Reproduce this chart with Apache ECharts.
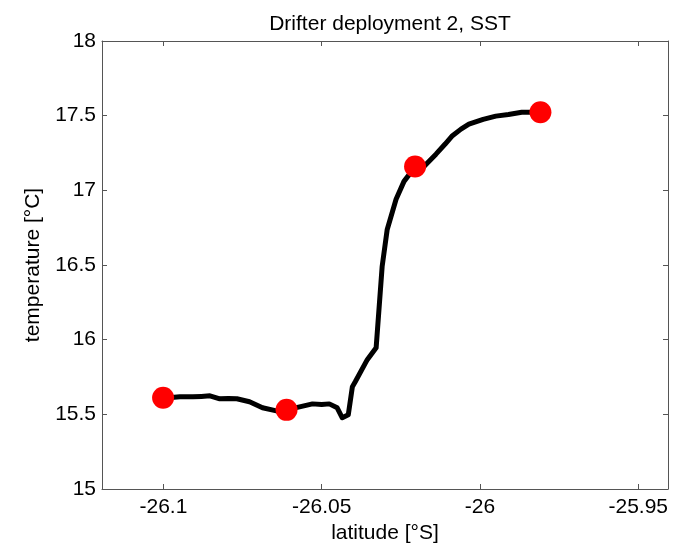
<!DOCTYPE html>
<html>
<head>
<meta charset="utf-8">
<script src="https://cdn.jsdelivr.net/npm/echarts@6/dist/echarts.min.js"></script>
<style>html,body{margin:0;padding:0;background:#fff;}#c{width:677px;height:545px;}</style>
</head>
<body>
<div id="c"></div>
<script>
// Drifter SST trace (latitude, temperature)
var lat = [-26.1001,-26.0975,-26.0948,-26.0907,-26.0880,-26.0853,-26.0822,-26.0795,-26.0768,-26.0728,-26.0687,-26.0643,-26.0611,-26.0570,-26.0529,-26.0500,-26.0476,-26.0451,-26.0435,-26.0429,-26.0416,-26.0403,-26.0394,-26.0356,-26.0328,-26.0309,-26.0293,-26.0265,-26.0240,-26.0215,-26.0195,-26.0170,-26.0139,-26.0110,-26.0089,-26.0060,-26.0035,-25.9990,-25.9950,-25.9910,-25.9868,-25.9809];
var temp = [15.611,15.612,15.617,15.617,15.620,15.624,15.604,15.606,15.604,15.584,15.544,15.523,15.530,15.550,15.570,15.566,15.570,15.544,15.477,15.477,15.497,15.685,15.718,15.866,15.946,16.490,16.738,16.940,17.060,17.130,17.120,17.175,17.242,17.310,17.362,17.410,17.443,17.475,17.497,17.508,17.523,17.523];
// deployment markers
var markLat = [-26.1001,-26.0611,-26.0205,-25.9809];
var markTemp = [15.611,15.530,17.160,17.523];
// ticks
var xTicks = [-26.1,-26.05,-26,-25.95];

var FONT = 'Liberation Sans, Arial, Helvetica, sans-serif';
var line = lat.map(function(v,i){return [v,temp[i]];});
var marks = markLat.map(function(v,i){return [v,markTemp[i]];});

var chart = echarts.init(document.getElementById('c'));
chart.setOption({
  animation:false,
  backgroundColor:'#fff',
  title:{text:'Drifter deployment 2, SST',left:385,textAlign:'center',top:9,
    textStyle:{fontFamily:FONT,fontSize:21,fontWeight:'normal',color:'#000'}},
  grid:{left:102,right:9,top:41,bottom:56,containLabel:false,outerBoundsMode:'none'},
  xAxis:[{
    type:'value',min:-26.1194,max:-25.9406,
    name:'latitude [°S]',nameLocation:'middle',nameGap:29,
    nameTextStyle:{fontFamily:FONT,fontSize:21,color:'#000'},
    axisLine:{show:true,onZero:false,lineStyle:{color:'#555',width:1}},
    axisTick:{show:true,inside:true,length:5,customValues:xTicks,lineStyle:{color:'#555'}},
    axisLabel:{show:true,customValues:xTicks,margin:8,fontFamily:FONT,fontSize:21,color:'#000'},
    splitLine:{show:false}
  },{
    type:'value',position:'top',min:-26.1194,max:-25.9406,
    axisLine:{show:true,onZero:false,lineStyle:{color:'#555',width:1}},
    axisTick:{show:true,inside:true,length:5,customValues:xTicks,lineStyle:{color:'#555'}},
    axisLabel:{show:false},splitLine:{show:false}
  }],
  yAxis:[{
    type:'value',min:15,max:18,interval:0.5,
    name:'temperature [°C]',nameLocation:'middle',nameGap:58,nameRotate:90,
    nameTextStyle:{fontFamily:FONT,fontSize:21,color:'#000'},
    axisLine:{show:true,onZero:false,lineStyle:{color:'#555',width:1}},
    axisTick:{show:true,inside:true,length:5,lineStyle:{color:'#555'}},
    axisLabel:{margin:6,fontFamily:FONT,fontSize:21,color:'#000'},
    splitLine:{show:false}
  },{
    type:'value',position:'right',min:15,max:18,interval:0.5,
    axisLine:{show:true,onZero:false,lineStyle:{color:'#555',width:1}},
    axisTick:{show:true,inside:true,length:5,lineStyle:{color:'#555'}},
    axisLabel:{show:false},splitLine:{show:false}
  }],
  series:[{
    type:'line',data:line,showSymbol:false,symbol:'none',smooth:false,z:2,
    lineStyle:{color:'#000',width:5,join:'round',cap:'round'}
  },{
    type:'scatter',data:marks,symbol:'circle',symbolSize:22,z:5,
    itemStyle:{color:'#ff0000',opacity:1}
  }]
});
</script>
</body>
</html>
